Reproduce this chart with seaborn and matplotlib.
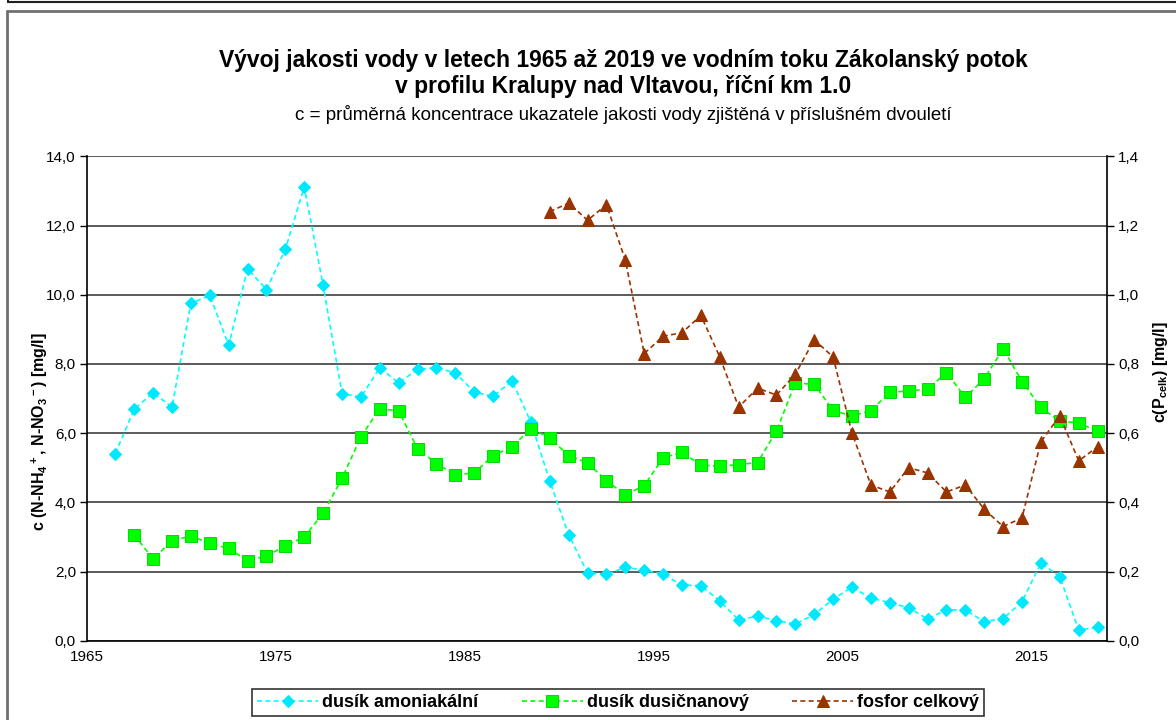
import numpy as np
import pandas as pd
import matplotlib
matplotlib.use("Agg")
import matplotlib.pyplot as plt
from matplotlib.lines import Line2D
import seaborn as sns

# --- data: two-year averages, plotted at the middle of each period ---
years_nh4 = np.arange(1966, 2019) + 0.5
nh4 = [5.41, 6.69, 7.17, 6.75, 9.75, 9.98, 8.54, 10.75, 10.15, 11.31,
       13.12, 10.27, 7.14, 7.04, 7.89, 7.45, 7.84, 7.89, 7.74, 7.19,
       7.06, 7.51, 6.32, 4.61, 3.06, 1.96, 1.92, 2.12, 2.04, 1.92,
       1.61, 1.59, 1.15, 0.60, 0.71, 0.58, 0.48, 0.76, 1.20, 1.55,
       1.23, 1.10, 0.95, 0.63, 0.89, 0.89, 0.55, 0.64, 1.12, 2.25,
       1.85, 0.31, 0.39]

years_no3 = np.arange(1967, 2019) + 0.5
no3 = [3.06, 2.36, 2.89, 3.03, 2.81, 2.67, 2.31, 2.45, 2.74, 3.00,
       3.68, 4.69, 5.89, 6.71, 6.64, 5.55, 5.12, 4.80, 4.85, 5.35,
       5.60, 6.13, 5.86, 5.35, 5.14, 4.62, 4.22, 4.48, 5.29, 5.44,
       5.08, 5.04, 5.09, 5.15, 6.06, 7.45, 7.41, 6.66, 6.49, 6.65,
       7.18, 7.22, 7.27, 7.75, 7.03, 7.57, 8.44, 7.49, 6.74, 6.34,
       6.30, 6.05]

years_p = np.arange(1989, 2019) + 0.5
p_total = [1.24, 1.265, 1.215, 1.26, 1.10, 0.83, 0.88, 0.89, 0.94, 0.82,
           0.675, 0.73, 0.71, 0.77, 0.87, 0.82, 0.60, 0.45, 0.43, 0.50,
           0.485, 0.43, 0.45, 0.38, 0.33, 0.355, 0.575, 0.65, 0.52, 0.56]

labels = ["dusík amoniakální", "dusík dusičnanový", "fosfor celkový"]
title_1 = "Vývoj jakosti vody v letech 1965 až 2019 ve vodním toku Zákolanský potok"
title_2 = "v profilu Kralupy nad Vltavou, říční km 1.0"
subtitle = "c = průměrná koncentrace ukazatele jakosti vody zjištěná v příslušném dvouletí"

df_nh4 = pd.DataFrame({"rok": years_nh4, "c": nh4})
df_no3 = pd.DataFrame({"rok": years_no3, "c": no3})
df_p = pd.DataFrame({"rok": years_p, "c": p_total})

sns.set_theme(style="white")
plt.rcParams["font.family"] = ["Liberation Sans", "DejaVu Sans"]
plt.rcParams["text.color"] = "black"
plt.rcParams["mathtext.fontset"] = "custom"
plt.rcParams["mathtext.rm"] = "Liberation Sans:bold"
plt.rcParams["mathtext.it"] = "Liberation Sans:bold"
plt.rcParams["mathtext.bf"] = "Liberation Sans:bold"
plt.rcParams["mathtext.default"] = "rm"

W, H = 1176, 720
fig = plt.figure(figsize=(W / 100, H / 100), dpi=100)
ax = fig.add_axes([87 / W, 1 - 640.7 / H, (1107 - 87) / W, (640.7 - 156.3) / H])
ax2 = ax.twinx()

c_nh4, c_no3, c_p = "#00FFFF", "#00FF00", "#993300"
lw = 1.2
dash = (0, (3, 2))

sns.lineplot(data=df_nh4, x="rok", y="c", ax=ax, color=c_nh4, linestyle=dash,
             linewidth=lw, marker="D", markersize=6.5, markeredgecolor="#00E8F8",
             markerfacecolor="#00E8FF", label=labels[0], legend=False)
sns.lineplot(data=df_no3, x="rok", y="c", ax=ax, color=c_no3, linestyle=dash,
             linewidth=lw, marker="s", markersize=9, markeredgecolor="#00E000",
             markerfacecolor=c_no3, label=labels[1], legend=False)
sns.lineplot(data=df_p, x="rok", y="c", ax=ax2, color=c_p, linestyle=dash,
             linewidth=lw, marker="^", markersize=8.5, markeredgecolor=c_p,
             markerfacecolor=c_p, label=labels[2], legend=False)

# axes ranges and ticks
ax.set_xlim(1965, 2019)
ax.set_ylim(0, 14)
ax2.set_ylim(0, 1.4)
ax.set_xticks([1965, 1975, 1985, 1995, 2005, 2015])
left_ticks = np.arange(0, 14.1, 2)
right_ticks = np.arange(0, 1.41, 0.2)
ax.set_yticks(left_ticks)
ax2.set_yticks(right_ticks)
ax.set_yticklabels([f"{v:.1f}".replace(".", ",") for v in left_ticks])
ax2.set_yticklabels([f"{v:.1f}".replace(".", ",") for v in right_ticks])
ax.set_xlabel("")
ax.set_ylabel("")
ax2.set_ylabel("")

for a in (ax, ax2):
    a.tick_params(axis="both", which="both", direction="out", length=5, width=1,
                  color="black", labelsize=11, labelcolor="black", pad=3)
ax.tick_params(axis="x", length=5, pad=2)
ax.tick_params(axis="y", left=True)
ax2.tick_params(axis="y", right=True)

# horizontal grid
ax.yaxis.grid(True, color="#404040", linewidth=1.2)
ax.xaxis.grid(False)
ax2.grid(False)
ax.set_axisbelow(True)

for a in (ax, ax2):
    for side in ("left", "right", "bottom", "top"):
        a.spines[side].set_visible(False)
ax.spines["left"].set_visible(True)
ax.spines["bottom"].set_visible(True)
ax2.spines["right"].set_visible(True)
for sp in (ax.spines["left"], ax.spines["bottom"], ax2.spines["right"]):
    sp.set_color("black")
    sp.set_linewidth(1.2)

# axis titles
fig.text(40 / W, 1 - 432 / H,
         r"c (N-NH$_4$$^+$, N-NO$_3$$^-$) [mg/l]",
         rotation=90, ha="center", va="center", fontsize=11.5, fontweight="bold",
         color="black")
fig.text(1161 / W, 1 - 372 / H, r"c(P$_{celk}$) [mg/l]",
         rotation=90, ha="center", va="center", fontsize=11.5, fontweight="bold",
         color="black")

# titles
fig.text(623 / W, 1 - 60 / H, title_1, ha="center", va="center",
         fontsize=16.5, fontweight="bold", color="black")
fig.text(623 / W, 1 - 87 / H, title_2, ha="center", va="center",
         fontsize=16.5, fontweight="bold", color="black")
fig.text(623 / W, 1 - 114 / H, subtitle, ha="center", va="center", fontsize=13.5,
         color="black")

# legend
handles = ax.get_lines()[:2] + ax2.get_lines()[:1]
leg = fig.legend(handles, labels, loc="center", bbox_to_anchor=(618 / W, 1 - 702.5 / H),
                 ncol=3, frameon=True, fancybox=False, handlelength=3.4, handletextpad=0.2,
                 columnspacing=2.4, borderpad=0.3, prop={"weight": "bold", "size": 13})
leg.get_frame().set_edgecolor("black")
leg.get_frame().set_linewidth(1.2)
for t in leg.get_texts():
    t.set_color("black")

# outer frames
fig.add_artist(Line2D([8 / W, 1], [1 - 2 / H, 1 - 2 / H], transform=fig.transFigure,
                      color="#202020", linewidth=1.5))
fig.add_artist(Line2D([8 / W, 8 / W], [1, 1 - 2 / H], transform=fig.transFigure,
                      color="#202020", linewidth=1.5))
fig.add_artist(Line2D([7 / W, 1], [1 - 11 / H, 1 - 11 / H], transform=fig.transFigure,
                      color="#707070", linewidth=2))
fig.add_artist(Line2D([7 / W, 7 / W], [1 - 11 / H, 0], transform=fig.transFigure,
                      color="#707070", linewidth=2))

fig.savefig("out.png", dpi=100, facecolor="white")
